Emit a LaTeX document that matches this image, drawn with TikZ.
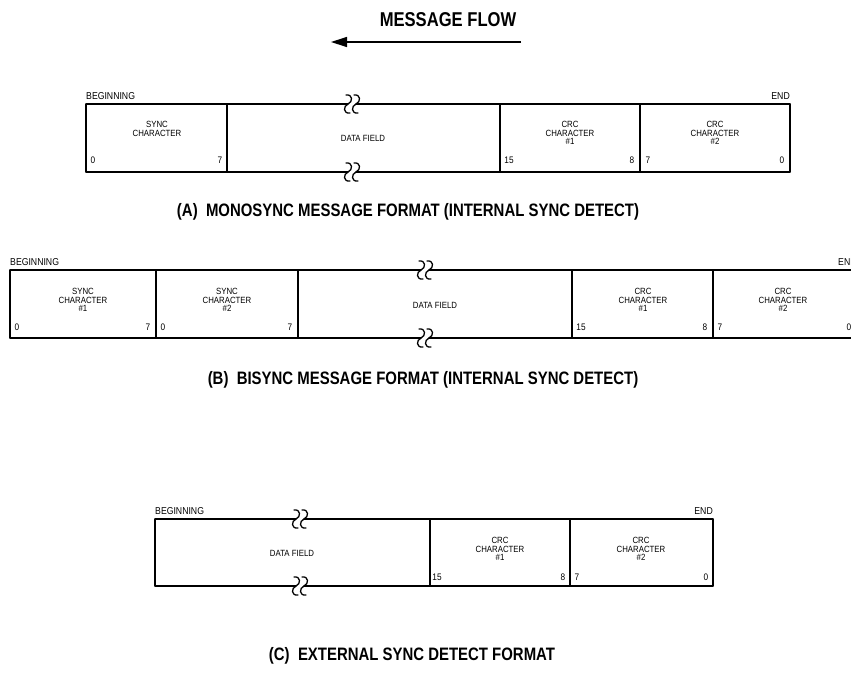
\documentclass[tikz,border=0pt]{standalone}
\usepackage{fontspec}
\setmainfont{Liberation Sans}
\newfontfamily\capf[FakeStretch=0.83]{Liberation Sans}
\newfontfamily\smallf[FakeStretch=0.87]{Liberation Sans}
\usetikzlibrary{arrows.meta}
\tikzset{
  box/.style={line width=1.3pt, line cap=round},
  lbl/.style={font=\smallf\fontsize{9}{8.6}\selectfont, align=center, inner sep=0pt, anchor=north},
  bit/.style={font=\smallf\fontsize{9.5}{9.5}\selectfont, inner sep=0pt},
  endlbl/.style={font=\smallf\fontsize{10}{10}\selectfont, inner sep=0pt, anchor=base},
  captxt/.style={font=\capf\bfseries\fontsize{18}{18}\selectfont, inner sep=0pt},
  brk/.pic={
    \draw[box] (-6,-9) .. controls (1,-10) and (1,-2) .. (-4,0)
               .. controls (-9,2) and (-9,10) .. (-2,9);
    \draw[box] (2,-9) .. controls (9,-10) and (9,-2) .. (4,0)
               .. controls (-1,2) and (-1,10) .. (6,9);
  }
}
\begin{document}
\begin{tikzpicture}[x=1pt,y=-1pt]
\useasboundingbox (0,0) rectangle (851,691);

% ---------- message flow ----------
\node[captxt, font=\capf\bfseries\fontsize{20}{20}\selectfont] (flow) at (448,20) {MESSAGE FLOW};
\coordinate (fa) at (521,42);
\coordinate (fb) at (331,42);
\draw[line width=1.3pt, -{Triangle[length=16pt,width=10pt]}] (fa) -- (fb);

% ---------- (A) ----------
\coordinate (a0t) at (86,104);  \coordinate (a0b) at (86,172);
\coordinate (a1t) at (227,104); \coordinate (a1b) at (227,172);
\coordinate (a2t) at (500,104); \coordinate (a2b) at (500,172);
\coordinate (a3t) at (640,104); \coordinate (a3b) at (640,172);
\coordinate (a4t) at (790,104); \coordinate (a4b) at (790,172);
\draw[box] (a0t) -- (a0b);
\draw[box] (a1t) -- (a1b);
\draw[box] (a2t) -- (a2b);
\draw[box] (a3t) -- (a3b);
\draw[box] (a4t) -- (a4b);
\draw[box] (a0t) -- (348,104);  \draw[box] (356,104) -- (a4t);
\draw[box] (a0b) -- (348,172);  \draw[box] (356,172) -- (a4b);
\pic at (352,104) {brk};
\pic at (352,172) {brk};
\node[endlbl, anchor=base west] (abeg) at (86,99) {BEGINNING};
\node[endlbl, anchor=base east] (aend) at (790,99) {END};
\node[lbl] (async) at (157,121) {SYNC\\CHARACTER};
\node[lbl, anchor=center] (adata) at (363,138) {DATA FIELD};
\node[lbl] (acrc1) at (570,121) {CRC\\CHARACTER\\\#1};
\node[lbl] (acrc2) at (715,121) {CRC\\CHARACTER\\\#2};
\node[bit] (ab0) at (93,160) {0};
\node[bit] (ab1) at (220,160) {7};
\node[bit] (ab2) at (509,160) {15};
\node[bit] (ab3) at (632,160) {8};
\node[bit] (ab4) at (648,160) {7};
\node[bit] (ab5) at (782,160) {0};
\node[captxt] (capa) at (408,212) {(A)\ \ MONOSYNC MESSAGE FORMAT (INTERNAL SYNC DETECT)};

% ---------- (B) ----------
\coordinate (b0t) at (10,270);  \coordinate (b0b) at (10,338);
\coordinate (b1t) at (156,270); \coordinate (b1b) at (156,338);
\coordinate (b2t) at (298,270); \coordinate (b2b) at (298,338);
\coordinate (b3t) at (572,270); \coordinate (b3b) at (572,338);
\coordinate (b4t) at (713,270); \coordinate (b4b) at (713,338);
\coordinate (b5t) at (857,270); \coordinate (b5b) at (857,338);
\draw[box] (b0t) -- (b0b);
\draw[box] (b1t) -- (b1b);
\draw[box] (b2t) -- (b2b);
\draw[box] (b3t) -- (b3b);
\draw[box] (b4t) -- (b4b);
\draw[box] (b5t) -- (b5b);
\draw[box] (b0t) -- (421,270);  \draw[box] (429,270) -- (b5t);
\draw[box] (b0b) -- (421,338);  \draw[box] (429,338) -- (b5b);
\pic at (425,270) {brk};
\pic at (425,338) {brk};
\node[endlbl, anchor=base west] (bbeg) at (10,265) {BEGINNING};
\node[endlbl, anchor=base west] (bend) at (838,265) {END};
\node[lbl] (bsync1) at (83,288) {SYNC\\CHARACTER\\\#1};
\node[lbl] (bsync2) at (227,288) {SYNC\\CHARACTER\\\#2};
\node[lbl, anchor=center] (bdata) at (435,305) {DATA FIELD};
\node[lbl] (bcrc1) at (643,288) {CRC\\CHARACTER\\\#1};
\node[lbl] (bcrc2) at (783,288) {CRC\\CHARACTER\\\#2};
\node[bit] (bb0) at (17,327) {0};
\node[bit] (bb1) at (148,327) {7};
\node[bit] (bb2) at (163,327) {0};
\node[bit] (bb3) at (290,327) {7};
\node[bit] (bb4) at (581,327) {15};
\node[bit] (bb5) at (705,327) {8};
\node[bit] (bb6) at (720,327) {7};
\node[bit] (bb7) at (849,327) {0};
\node[captxt] (capb) at (423,380) {(B)\ \ BISYNC MESSAGE FORMAT (INTERNAL SYNC DETECT)};

% ---------- (C) ----------
\coordinate (c0t) at (155,519); \coordinate (c0b) at (155,586);
\coordinate (c1t) at (430,519); \coordinate (c1b) at (430,586);
\coordinate (c2t) at (570,519); \coordinate (c2b) at (570,586);
\coordinate (c3t) at (713,519); \coordinate (c3b) at (713,586);
\draw[box] (c0t) -- (c0b);
\draw[box] (c1t) -- (c1b);
\draw[box] (c2t) -- (c2b);
\draw[box] (c3t) -- (c3b);
\draw[box] (c0t) -- (296,519);  \draw[box] (304,519) -- (c3t);
\draw[box] (c0b) -- (296,586);  \draw[box] (304,586) -- (c3b);
\pic at (300,519) {brk};
\pic at (300,586) {brk};
\node[endlbl, anchor=base west] (cbeg) at (155,514) {BEGINNING};
\node[endlbl, anchor=base east] (cend) at (713,514) {END};
\node[lbl, anchor=center] (cdata) at (292,553) {DATA FIELD};
\node[lbl] (ccrc1) at (500,537) {CRC\\CHARACTER\\\#1};
\node[lbl] (ccrc2) at (641,537) {CRC\\CHARACTER\\\#2};
\node[bit] (cb0) at (437,577) {15};
\node[bit] (cb1) at (563,577) {8};
\node[bit] (cb2) at (577,577) {7};
\node[bit] (cb3) at (706,577) {0};
\node[captxt] (capc) at (412,656) {(C)\ \ EXTERNAL SYNC DETECT FORMAT};
\end{tikzpicture}
\end{document}
